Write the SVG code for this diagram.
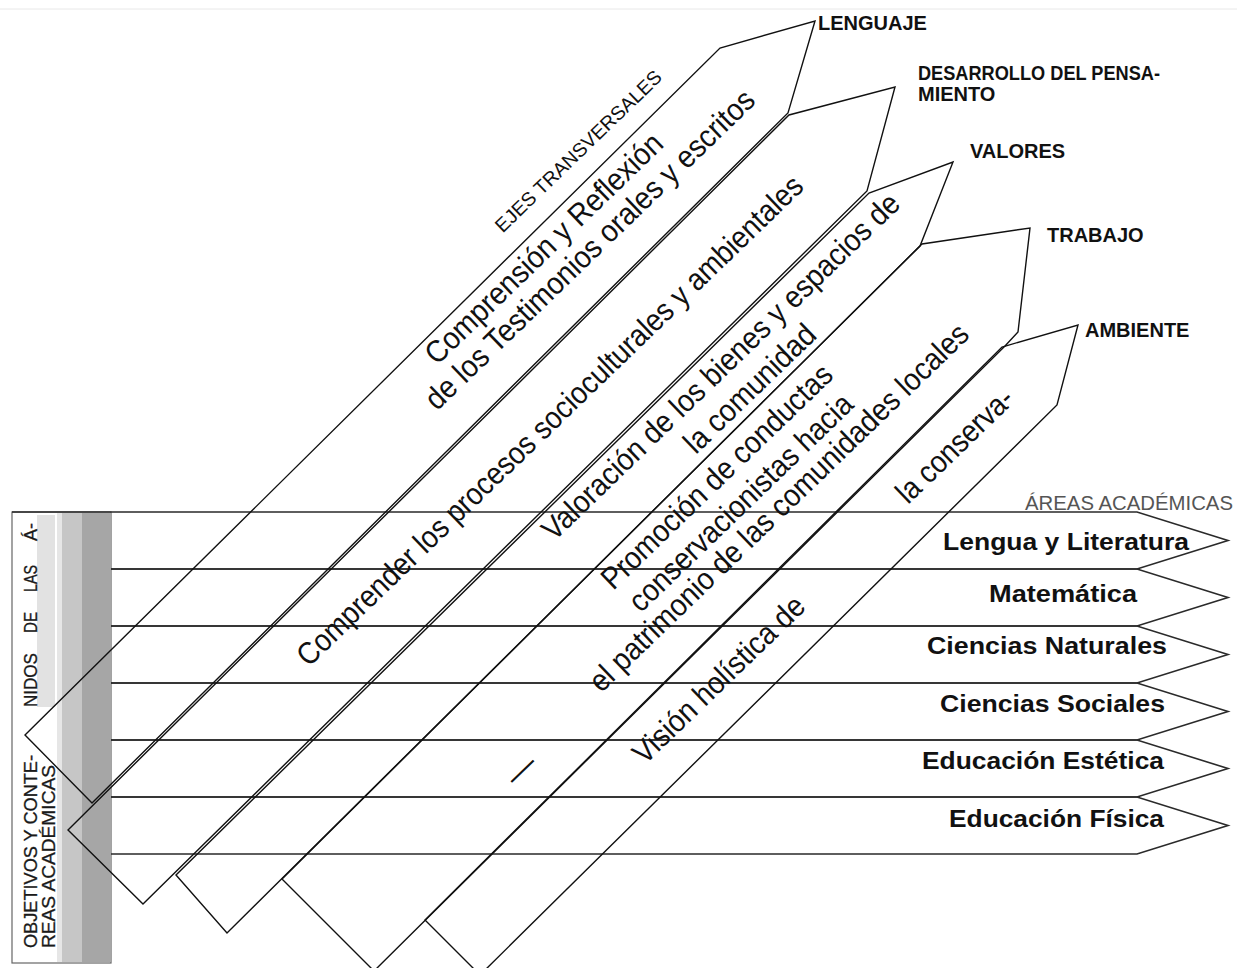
<svg xmlns="http://www.w3.org/2000/svg" width="1237" height="968" viewBox="0 0 1237 968">
<style>
.hb{fill:none;stroke:#2a2a2a;stroke-width:1.6;stroke-linejoin:miter}
.db{fill:none;stroke:#111;stroke-width:1.4;stroke-linejoin:miter}
.hl{font-family:"Liberation Sans",Arial,sans-serif;font-weight:bold;font-size:23px;fill:#111}
.dt{font-family:"Liberation Sans",Arial,sans-serif;font-size:31px;fill:#111;text-anchor:middle}
.head{font-family:"Liberation Sans",Arial,sans-serif;font-weight:bold;font-size:20px;fill:#111}
.ft{font-family:"Liberation Sans",Arial,sans-serif;font-size:18.5px;fill:#1a1a1a;stroke:#1a1a1a;stroke-width:0.3}
</style>
<rect x="0" y="0" width="1237" height="968" fill="#ffffff"/>
<line x1="0" y1="9" x2="1237" y2="9" stroke="#e8e8e8" stroke-width="1"/>

<g id="frame">
  <rect x="12" y="512" width="99" height="451" fill="#ffffff" stroke="#666" stroke-width="1.2"/>
  <rect x="37" y="515" width="18" height="192" fill="#e2e2e2"/>
  <rect x="57" y="513" width="5" height="449" fill="#e6e6e6"/>
  <rect x="62" y="513" width="20" height="449" fill="#c6c6c6"/>
  <rect x="82" y="513" width="29" height="449" fill="#a6a6a6"/>
  <text class="ft" transform="translate(37,948) rotate(-90)" textLength="193" lengthAdjust="spacingAndGlyphs">OBJETIVOS Y CONTE-</text>
  <text class="ft" transform="translate(37,707) rotate(-90)" textLength="54" lengthAdjust="spacingAndGlyphs">NIDOS</text>
  <text class="ft" transform="translate(37,633) rotate(-90)" textLength="21" lengthAdjust="spacingAndGlyphs">DE</text>
  <text class="ft" transform="translate(37,592) rotate(-90)" textLength="27" lengthAdjust="spacingAndGlyphs">LAS</text>
  <text class="ft" transform="translate(37,541) rotate(-90)" textLength="18" lengthAdjust="spacingAndGlyphs">Á-</text>
  <text class="ft" transform="translate(55,948) rotate(-90)" textLength="183" lengthAdjust="spacingAndGlyphs">REAS ACADÉMICAS</text>
</g>

<text x="1025" y="510" font-family="'Liberation Sans',Arial,sans-serif" font-size="20" fill="#555" textLength="208" lengthAdjust="spacingAndGlyphs">ÁREAS ACADÉMICAS</text>

<g id="areas">
  <g id="area-lengua">
    <path class="hb" d="M12,512 L1137,512 L1228,540.5 L1137,569 L111,569"/>
    <text class="hl" x="943" y="550" textLength="246" lengthAdjust="spacingAndGlyphs">Lengua y Literatura</text>
  </g>
  <g id="area-matematica">
    <path class="hb" d="M111,569 L1137,569 L1228,597.5 L1137,626 L111,626"/>
    <text class="hl" x="989" y="602" textLength="148" lengthAdjust="spacingAndGlyphs">Matemática</text>
  </g>
  <g id="area-naturales">
    <path class="hb" d="M111,626 L1137,626 L1228,654.5 L1137,683 L111,683"/>
    <text class="hl" x="927" y="654" textLength="240" lengthAdjust="spacingAndGlyphs">Ciencias Naturales</text>
  </g>
  <g id="area-sociales">
    <path class="hb" d="M111,683 L1137,683 L1228,711.5 L1137,740 L111,740"/>
    <text class="hl" x="940" y="712" textLength="225" lengthAdjust="spacingAndGlyphs">Ciencias Sociales</text>
  </g>
  <g id="area-estetica">
    <path class="hb" d="M111,740 L1137,740 L1228,768.5 L1137,797 L111,797"/>
    <text class="hl" x="922" y="769" textLength="242" lengthAdjust="spacingAndGlyphs">Educación Estética</text>
  </g>
  <g id="area-fisica">
    <path class="hb" d="M111,797 L1137,797 L1228,825.5 L1137,854 L111,854"/>
    <text class="hl" x="949" y="827" textLength="215" lengthAdjust="spacingAndGlyphs">Educación Física</text>
  </g>
</g>

<g id="ejes">
  <text font-family="'Liberation Sans',Arial,sans-serif" font-size="19.5" fill="#111" text-anchor="middle" transform="translate(583,156) rotate(-44)">EJES TRANSVERSALES</text>
  <g id="eje-lenguaje">
    <path class="db" d="M25,735 L720,48 L815,21 L788,113 L92,803 Z"/>
    <text class="head" x="818" y="30">LENGUAJE</text>
    <text class="dt" transform="translate(551,256) rotate(-44)" textLength="317" lengthAdjust="spacingAndGlyphs">Comprensión y Reflexión</text>
    <text class="dt" transform="translate(597,257) rotate(-44)" textLength="445" lengthAdjust="spacingAndGlyphs">de los Testimonios orales y escritos</text>
  </g>
  <g id="eje-pensamiento">
    <path class="db" d="M68,830 L789,115 L895,87 L867,191 L143,904 Z"/>
    <text class="head" x="918" y="80" textLength="242" lengthAdjust="spacingAndGlyphs">DESARROLLO DEL PENSA-</text>
    <text class="head" x="918" y="101">MIENTO</text>
    <text class="dt" transform="translate(557,428) rotate(-44)" textLength="690" lengthAdjust="spacingAndGlyphs">Comprender los procesos socioculturales y ambientales</text>
  </g>
  <g id="eje-valores">
    <path class="db" d="M176,875 L869,193 L953,162 L920,246 L227,933 Z"/>
    <text class="head" x="970" y="158">VALORES</text>
    <text class="dt" transform="translate(728,374) rotate(-44)" textLength="484" lengthAdjust="spacingAndGlyphs">Valoración de los bienes y espacios de</text>
    <text class="dt" transform="translate(757,396) rotate(-44)" textLength="170" lengthAdjust="spacingAndGlyphs">la comunidad</text>
  </g>
  <g id="eje-trabajo">
    <path class="db" d="M282,879 L922,244 L1030,228 L1018,332 L1005,346 L374,971 Z"/>
    <text class="head" x="1047" y="242">TRABAJO</text>
    <text class="dt" transform="translate(724,484) rotate(-44)" textLength="308" lengthAdjust="spacingAndGlyphs">Promoción de conductas</text>
    <text class="dt" transform="translate(748,510) rotate(-44)" textLength="298" lengthAdjust="spacingAndGlyphs">conservacionistas hacia</text>
    <text class="dt" transform="translate(786,515) rotate(-44)" textLength="514" lengthAdjust="spacingAndGlyphs">el patrimonio de las comunidades locales</text>
  </g>
  <g id="eje-ambiente">
    <path class="db" d="M425,920 L1002,347 L1078,325 L1057,405 L480,975 Z"/>
    <text class="head" x="1085" y="337">AMBIENTE</text>
    <text class="dt" transform="translate(726,687) rotate(-44)" textLength="226" lengthAdjust="spacingAndGlyphs">Visión holística de</text>
    <text class="dt" transform="translate(962,453) rotate(-44)" textLength="150" lengthAdjust="spacingAndGlyphs">la conserva-</text>
    <text class="dt" transform="translate(528,777) rotate(-44)">—</text>
  </g>
</g>
</svg>
